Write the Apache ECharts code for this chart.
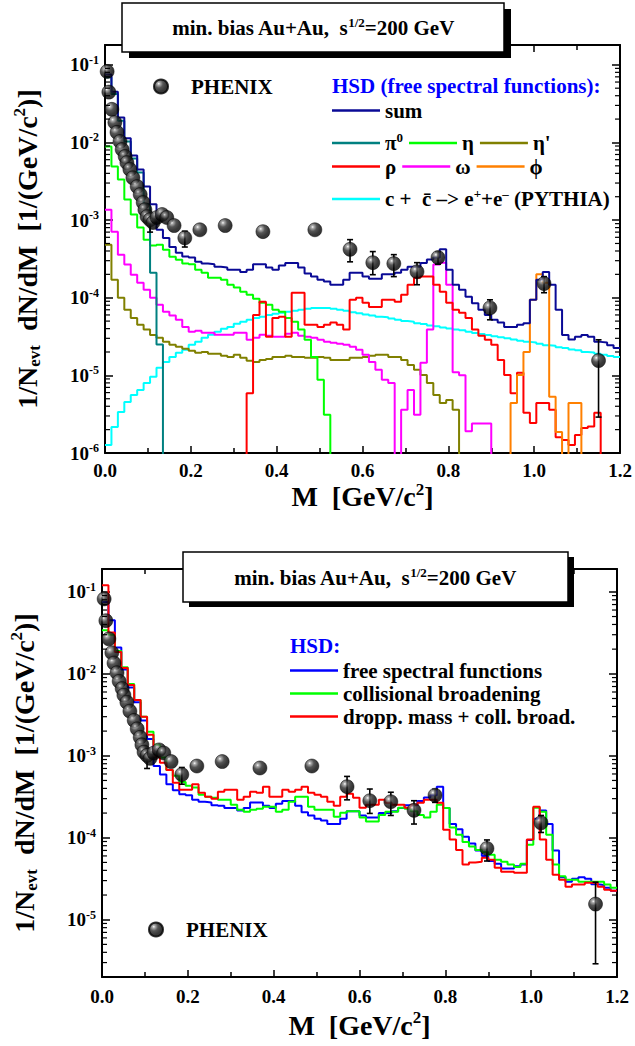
<!DOCTYPE html>
<html><head><meta charset="utf-8">
<script src="https://cdn.jsdelivr.net/npm/echarts@6/dist/echarts.min.js"></script>
<style>html,body{margin:0;padding:0;background:#fff}#c{width:635px;height:1046px}</style>
</head><body><div id="c"></div>
<script>
// ---------------- DATA ----------------
const binWidth = 0.015;          // GeV/c^2, histogram bin width
const nBins = 80;                // 0 .. 1.2 GeV/c^2
const xTicks = [0.0, 0.2, 0.4, 0.6, 0.8, 1.0, 1.2];

// HSD, free spectral functions: sum (top panel) = "free spectral functions" (bottom panel)
const sumFree = [0.075, 0.045, 0.021, 0.0113, 0.0068, 0.0045, 0.0027, 0.0016, 7.5e-4, 5.9e-4,
  4.5e-4, 3.8e-4, 3.4e-4, 3.3e-4, 2.9e-4, 2.75e-4, 2.7e-4, 2.5e-4, 2.45e-4, 2.3e-4,
  2.3e-4, 2.15e-4, 2.3e-4, 2.7e-4, 2.7e-4, 2.45e-4, 2.3e-4, 2.6e-4, 2.8e-4, 2.8e-4,
  2.45e-4, 2.05e-4, 1.87e-4, 1.7e-4, 1.62e-4, 1.47e-4, 1.47e-4, 1.7e-4, 2.1e-4, 2.1e-4,
  1.87e-4, 1.76e-4, 1.76e-4, 2.0e-4, 2.0e-4, 2.1e-4, 2.3e-4, 2.5e-4, 2.5e-4, 2.8e-4,
  3.1e-4, 3.3e-4, 4.2e-4, 2.3e-4, 1.47e-4, 1.27e-4, 1.03e-4, 8.5e-5, 7.0e-5, 6.0e-5,
  5.2e-5, 4.8e-5, 4.2e-5, 4.2e-5, 4.5e-5, 4.7e-5, 9.4e-5, 1.7e-4, 2.15e-4, 1.47e-4,
  7.0e-5, 3.3e-5, 2.9e-5, 3.15e-5, 3.3e-5, 3.15e-5, 2.7e-5, 2.65e-5, 2.45e-5, 2.25e-5];
const pi0Start = 0;
const pi0 = [0.069, 0.042, 0.019, 0.0103, 0.0062, 0.0041, 0.0016, 2.1e-4, 2.5e-5];
const etaStart = 0;
const eta = [0.00887, 0.0049, 0.00334, 0.00184, 0.00118, 8.0e-4, 5.6e-4, 4.7e-4, 4.8e-4, 4.16e-4,
  3.38e-4, 3.09e-4, 2.75e-4, 2.69e-4, 2.3e-4, 2.1e-4, 1.81e-4, 1.81e-4, 1.71e-4, 1.47e-4,
  1.35e-4, 1.19e-4, 1.09e-4, 9.7e-5, 8.6e-5, 8.1e-5, 7.0e-5, 6.6e-5, 5.5e-5, 4.9e-5,
  3.9e-5, 2.87e-5, 1.73e-5, 8.8e-6, 3.1e-6];
const etaPrimeStart = 0;
const etaPrime = [4.8e-4, 1.71e-4, 1.0e-4, 7.0e-5, 5.5e-5, 4.5e-5, 3.9e-5, 3.3e-5, 3.05e-5, 2.72e-5,
  2.48e-5, 2.34e-5, 2.2e-5, 2.07e-5, 1.95e-5, 2.0e-5, 1.9e-5, 1.9e-5, 1.79e-5, 1.73e-5,
  1.84e-5, 1.68e-5, 1.54e-5, 1.49e-5, 1.58e-5, 1.63e-5, 1.73e-5, 1.73e-5, 1.79e-5, 1.73e-5,
  1.73e-5, 1.68e-5, 1.68e-5, 1.73e-5, 1.68e-5, 1.58e-5, 1.58e-5, 1.58e-5, 1.68e-5, 1.68e-5,
  1.73e-5, 1.79e-5, 1.84e-5, 1.84e-5, 1.73e-5, 1.73e-5, 1.58e-5, 1.36e-5, 1.18e-5, 1.01e-5,
  8.0e-6, 5.6e-6, 4.4e-6, 4.8e-6, 3.6e-6];
const rhoStart = 22;
const rho = [5.9e-6, 6.0e-5, 8.9e-5, 3.15e-5, 5.5e-5, 5.7e-5, 3.15e-5, 1.16e-4, 1.16e-4, 4.5e-5,
  4.5e-5, 4.2e-5, 4.5e-5, 4.8e-5, 4.5e-5, 3.9e-5, 9.4e-5, 1.0e-4, 8.6e-5, 7.6e-5,
  7.6e-5, 9.4e-5, 9.4e-5, 8.9e-5, 1.09e-4, 1.47e-4, 1.81e-4, 1.87e-4, 1.87e-4, 1.47e-4,
  1.19e-4, 8.6e-5, 7.0e-5, 6.4e-5, 5.5e-5, 3.9e-5, 3.24e-5, 2.87e-5, 2.48e-5, 1.58e-5,
  1.01e-5, 5.9e-6, 1.08e-5, 3.3e-6, 2.44e-6, 4.4e-6, 4.4e-6, 3.6e-6, 1.6e-6, 1.47e-6,
  1.27e-6, 1.7e-6, 2.1e-6, 2.2e-6, 3.3e-6];
const omegaStart = 0;
const omega = [1.36e-3, 7.1e-4, 3.59e-4, 2.67e-4, 1.98e-4, 1.56e-4, 1.27e-4, 1.0e-4, 8.1e-5, 6.6e-5,
  5.9e-5, 5.2e-5, 4.2e-5, 3.64e-5, 3.75e-5, 3.53e-5, 3.53e-5, 3.33e-5, 3.33e-5, 3.33e-5,
  3.53e-5, 3.53e-5, 2.87e-5, 3.05e-5, 3.33e-5, 3.24e-5, 3.15e-5, 3.15e-5, 3.43e-5, 3.53e-5,
  3.24e-5, 3.15e-5, 3.05e-5, 2.87e-5, 2.72e-5, 2.64e-5, 2.55e-5, 2.48e-5, 2.34e-5, 2.13e-5,
  1.84e-5, 1.49e-5, 1.18e-5, 8.8e-6, 8.0e-6, 0, 3.6e-6, 6.5e-6, 3.1e-6, 1.45e-5,
  3.9e-5, 2.67e-4, 2.83e-4, 1.47e-4, 1.1e-5, 1.0e-5, 1.9e-6, 2.4e-6, 2.4e-6, 2.4e-6];
const phiStart = 63;
const phi = [4.4e-6, 1.01e-5, 2.0e-5, 9.4e-5, 2.0e-4, 1.56e-4, 5.3e-6, 1.87e-6, 0, 4.4e-6, 4.4e-6];
const charmStart = 0;
const charm = [1.27e-6, 2.16e-6, 3.38e-6, 4.55e-6, 5.6e-6, 6.5e-6, 8.0e-6, 9.6e-6, 1.25e-5, 1.49e-5,
  1.73e-5, 1.95e-5, 2.13e-5, 2.48e-5, 2.72e-5, 3.05e-5, 3.33e-5, 3.64e-5, 3.98e-5, 4.2e-5,
  4.62e-5, 4.9e-5, 5.2e-5, 5.5e-5, 5.7e-5, 6.0e-5, 6.2e-5, 6.4e-5, 6.6e-5, 6.8e-5,
  7.0e-5, 7.2e-5, 7.4e-5, 7.4e-5, 7.4e-5, 7.2e-5, 7.0e-5, 6.8e-5, 6.5e-5, 6.3e-5,
  6.1e-5, 5.9e-5, 5.7e-5, 5.6e-5, 5.4e-5, 5.2e-5, 5.0e-5, 4.9e-5, 4.7e-5, 4.6e-5,
  4.4e-5, 4.3e-5, 4.15e-5, 4.0e-5, 3.9e-5, 3.8e-5, 3.65e-5, 3.5e-5, 3.4e-5, 3.3e-5,
  3.2e-5, 3.1e-5, 3.0e-5, 2.9e-5, 2.8e-5, 2.7e-5, 2.65e-5, 2.55e-5, 2.45e-5, 2.4e-5,
  2.3e-5, 2.25e-5, 2.15e-5, 2.1e-5, 2.0e-5, 1.97e-5, 1.9e-5, 1.84e-5, 1.78e-5, 1.73e-5];

// bottom panel: collisional broadening, dropping mass + coll. broadening
const collBroad = [0.034, 0.03, 0.019, 0.012, 0.0075, 0.0048, 0.003, 0.00196, 0.00136, 9.5e-4,
  6.7e-4, 5.7e-4, 4.8e-4, 4.3e-4, 4.1e-4, 3.34e-4, 3.16e-4, 3.08e-4, 2.9e-4, 2.9e-4,
  2.52e-4, 2.19e-4, 2.08e-4, 2.19e-4, 2.26e-4, 2.39e-4, 2.39e-4, 2.08e-4, 2.19e-4, 2.75e-4,
  3.16e-4, 3.16e-4, 2.39e-4, 2.19e-4, 2.19e-4, 2.19e-4, 1.8e-4, 2.02e-4, 2.1e-4, 2.1e-4,
  1.76e-4, 1.58e-4, 1.58e-4, 1.9e-4, 2.08e-4, 2.08e-4, 2.33e-4, 2.26e-4, 2.1e-4, 1.9e-4,
  1.76e-4, 2.08e-4, 2.52e-4, 2.3e-4, 1.33e-4, 1.09e-4, 8.9e-5, 7.8e-5, 7.1e-5, 6.7e-5,
  6.2e-5, 5.4e-5, 5.1e-5, 4.7e-5, 4.4e-5, 4.8e-5, 8.2e-5, 2.33e-4, 2.08e-4, 1.09e-4,
  4.7e-5, 3.4e-5, 3.08e-5, 3.08e-5, 2.9e-5, 2.9e-5, 2.9e-5, 2.9e-5, 2.68e-5, 2.45e-5];
const droppMass = [0.12, 0.032, 0.0185, 0.0118, 0.0073, 0.0048, 0.003, 0.0018, 9.7e-4, 8.2e-4,
  6.7e-4, 4.7e-4, 3.85e-4, 3.85e-4, 4.5e-4, 3.54e-4, 3.16e-4, 3.0e-4, 3.64e-4, 3.85e-4,
  3.85e-4, 2.9e-4, 3.16e-4, 3.64e-4, 3.54e-4, 4.2e-4, 3.16e-4, 3.16e-4, 3.85e-4, 3.64e-4,
  3.85e-4, 4.2e-4, 3.54e-4, 3.34e-4, 3.16e-4, 2.75e-4, 2.45e-4, 3.16e-4, 3.45e-4, 3.08e-4,
  2.33e-4, 2.52e-4, 2.52e-4, 2.9e-4, 2.68e-4, 2.52e-4, 2.52e-4, 2.33e-4, 2.52e-4, 2.68e-4,
  2.9e-4, 2.9e-4, 2.68e-4, 1.25e-4, 9.5e-5, 7.1e-5, 4.7e-5, 5.0e-5, 5.1e-5, 5.7e-5,
  5.4e-5, 4.3e-5, 3.85e-5, 3.85e-5, 3.75e-5, 3.75e-5, 9.5e-5, 2.39e-4, 9.5e-5, 5.4e-5,
  3.54e-5, 3.08e-5, 2.52e-5, 2.68e-5, 2.68e-5, 2.83e-5, 2.83e-5, 2.52e-5, 2.32e-5, 2.25e-5];

// PHENIX data
const phenixM = [0.005, 0.009, 0.016, 0.023, 0.028, 0.035, 0.040, 0.047, 0.051, 0.058,
  0.065, 0.075, 0.082, 0.089, 0.093, 0.098, 0.105, 0.112, 0.121, 0.133,
  0.144, 0.161, 0.186, 0.221, 0.280, 0.368, 0.489, 0.571, 0.624, 0.673,
  0.727, 0.776, 0.897, 1.023, 1.150];
const phenixY = [0.082, 0.0445, 0.0267, 0.0181, 0.0135, 0.0103, 0.0081, 0.0066, 0.0055, 0.0045,
  0.0035, 0.0027, 0.00213, 0.00168, 0.00136, 0.00111, 0.00101, 9.3e-4, 1.08e-3, 1.18e-3,
  1.08e-3, 8.5e-4, 5.9e-4, 7.5e-4, 8.5e-4, 7.1e-4, 7.5e-4, 4.2e-4, 2.83e-4, 2.75e-4,
  2.16e-4, 3.3e-4, 7.4e-5, 1.52e-4, 1.55e-5];
const phenixLo = [null, null, null, null, null, null, null, null, null, null,
  null, null, null, null, null, null, 7.0e-4, null, null, null,
  null, null, 4.5e-4, null, null, null, null, 2.9e-4, 1.98e-4, 1.87e-4,
  1.47e-4, 2.7e-4, 5.2e-5, 1.16e-4, 2.9e-6];
const phenixHi = [null, null, null, null, null, null, null, null, null, null,
  null, null, null, null, null, null, 1.05e-3, null, null, null,
  null, null, 7.2e-4, null, null, null, null, 5.6e-4, 3.93e-4, 3.59e-4,
  2.83e-4, 3.9e-4, 9.4e-5, 1.87e-4, 2.87e-5];

// ---------------- CHART ----------------
const FONT = '"Liberation Serif", "Times New Roman", serif';
const FLOOR = 1e-9; // empty bins: drawn below the visible axis range (clipped)
const X_MIN = 0, X_MAX = 1.2;
const Y_RANGE = [[1e-6, 0.18], [2e-6, 0.19]];

function histo(vals, start) {
  const full = [];
  for (let i = 0; i < nBins; i++) {
    const j = i - (start || 0);
    const v = (j >= 0 && j < vals.length) ? vals[j] : 0;
    full.push(v);
  }
  const pts = full.map((v, i) => [Math.round(i * binWidth * 1000) / 1000, v > 0 ? v : FLOOR]);
  const last = full[nBins - 1];
  pts.push([Math.round(nBins * binWidth * 1000) / 1000, last > 0 ? last : FLOOR]);
  return pts;
}
function hSeries(name, vals, start, color, g, z) {
  return {
    type: 'line', name, data: histo(vals, start), step: 'end', symbol: 'none', showSymbol: false,
    xAxisIndex: g * 2, yAxisIndex: g * 2, clip: true, z: z || 2, silent: true,
    lineStyle: { color, width: 2 }, itemStyle: { color }, emphasis: { disabled: true }
  };
}
const sphere = {
  type: 'radial', x: 0.34, y: 0.3, r: 0.8,
  colorStops: [{ offset: 0, color: '#ffffff' }, { offset: 0.12, color: '#9a9a9a' }, { offset: 0.38, color: '#2a2a2a' }, { offset: 0.7, color: '#050505' }, { offset: 1, color: '#000' }]
};
function phenixSeries(g) {
  return {
    type: 'scatter', name: 'PHENIX', xAxisIndex: g * 2, yAxisIndex: g * 2, z: 6, silent: true,
    symbol: 'circle', symbolSize: 14,
    itemStyle: { color: sphere, borderColor: '#000', borderWidth: 0.6 },
    data: phenixM.map((m, i) => [m, phenixY[i]])
  };
}
function errSeries(g) {
  const d = [];
  phenixM.forEach((m, i) => { if (phenixLo[i] != null) d.push([m, phenixLo[i], phenixHi[i]]); });
  return {
    type: 'custom', xAxisIndex: g * 2, yAxisIndex: g * 2, z: 5, silent: true, clip: true,
    encode: { x: 0, y: [1, 2] }, data: d,
    renderItem(params, api) {
      const x = api.value(0);
      const p1 = api.coord([x, api.value(1)]), p2 = api.coord([x, api.value(2)]);
      const st = { stroke: '#000', lineWidth: 1.6 };
      return { type: 'group', children: [
        { type: 'line', shape: { x1: p1[0], y1: p1[1], x2: p2[0], y2: p2[1] }, style: st },
        { type: 'line', shape: { x1: p1[0] - 3, y1: p1[1], x2: p1[0] + 3, y2: p1[1] }, style: st },
        { type: 'line', shape: { x1: p2[0] - 3, y1: p2[1], x2: p2[0] + 3, y2: p2[1] }, style: st }
      ] };
    }
  };
}
function minorTickSeries(g) {
  const d = [];
  const [lo, hi] = Y_RANGE[g];
  for (let e = -7; e <= 0; e++) for (let k = 2; k <= 9; k++) {
    const v = k * Math.pow(10, e);
    if (v > lo * 1.0001 && v < hi) d.push([X_MIN, v]);
  }
  return {
    type: 'custom', xAxisIndex: g * 2, yAxisIndex: g * 2, z: 7, silent: true, data: d,
    encode: { x: 0, y: 1 },
    renderItem(params, api) {
      const v = api.value(1);
      const pl = api.coord([X_MIN, v]), pr = api.coord([X_MAX, v]);
      const st = { stroke: '#000', lineWidth: 1.2 };
      return { type: 'group', children: [
        { type: 'line', shape: { x1: pl[0], y1: pl[1], x2: pl[0] + 5, y2: pl[1] }, style: st },
        { type: 'line', shape: { x1: pr[0], y1: pr[1], x2: pr[0] - 5, y2: pr[1] }, style: st }
      ] };
    }
  };
}

const bold = (size, extra) => Object.assign({ fontFamily: FONT, fontWeight: 'bold', fontSize: size, color: '#000' }, extra || {});
const tickRich = {
  b: bold(19, { lineHeight: 22 }),
  e: bold(12, { lineHeight: 12, verticalAlign: 'top' })
};
function logLabel(v) {
  const l = Math.log10(v);
  const e = Math.round(l);
  if (Math.abs(l - e) > 1e-6) return '';
  return '{b|10}{e|' + e + '}';
}
const titleRich = {
  t: bold(28, { lineHeight: 32 }),
  s: bold(17, { lineHeight: 17, verticalAlign: 'top' }),
  u: bold(17, { lineHeight: 17, verticalAlign: 'bottom' })
};
function axesFor(g) {
  const common = { min: X_MIN, max: X_MAX, interval: 0.2, gridIndex: g, type: 'value',
    splitLine: { show: false },
    axisLine: { show: true, onZero: false, lineStyle: { color: '#000', width: 2 } },
    axisTick: { show: true, inside: true, length: 7, lineStyle: { color: '#000', width: 1.5 } },
    minorTick: { show: true, splitNumber: 2, length: 5, lineStyle: { color: '#000', width: 1.5 } } };
  const xb = Object.assign({}, common, { position: 'bottom',
    axisLabel: { margin: g === 0 ? 8 : 10, formatter: v => v.toFixed(1), ...bold(19) },
    name: '{t|M  [GeV/c}{s|2}{t|]}', nameLocation: 'middle', nameGap: g === 0 ? 27 : 32,
    nameTextStyle: { rich: titleRich } });
  const xt = Object.assign({}, common, { position: 'top', axisLabel: { show: false } });
  const ycommon = { type: 'log', logBase: 10, min: Y_RANGE[g][0], max: Y_RANGE[g][1], gridIndex: g,
    splitLine: { show: false },
    axisLine: { show: true, onZero: false, lineStyle: { color: '#000', width: 2 } },
    axisTick: { show: true, inside: true, length: 8, lineStyle: { color: '#000', width: 1.5 } },
    minorTick: { show: false } };
  const yl = Object.assign({}, ycommon, { position: 'left',
    axisLabel: { margin: 6, formatter: logLabel, rich: tickRich },
    name: '{t|1/N}{u|evt}{t|  dN/dM  [1/(GeV/c}{s|2}{t|)]}', nameLocation: 'middle', nameRotate: 90,
    nameGap: 62, nameTextStyle: { rich: titleRich } });
  const yr = Object.assign({}, ycommon, { position: 'right', axisLabel: { show: false } });
  return { x: [xb, xt], y: [yl, yr] };
}
const a0 = axesFor(0), a1 = axesFor(1);

const legRich = {
  t: bold(21, { lineHeight: 24 }),
  s: bold(13, { lineHeight: 13, verticalAlign: 'top' }),
  p: bold(21, { lineHeight: 24, padding: [0, 0, 0, 18] })
};
const legendText = {
  'π0': '{t|π}{s|0}',
  'c + c̄ -> e+e- (PYTHIA)': '{t|c +  c\u0304 \u2013> e}{s|+}{t|+e}{s|\u2013}{t| (PYTHIA)}',
  'PHENIX': '{p|PHENIX}'
};
function legend(data, left, top, opts) {
  return Object.assign({
    data, left, top, padding: 0, itemGap: 6, itemWidth: 48, itemHeight: 2.5, icon: 'rect',
    selectedMode: false, orient: 'horizontal',
    formatter: n => legendText[n] || ('{t|' + n + '}'),
    textStyle: { rich: legRich, ...bold(21) }
  }, opts || {});
}

const graphicBox = (x, y, w, h, dx, dy, cx, cy) => ({
  type: 'group', z: 100, children: [
    { type: 'rect', shape: { x: x + dx, y: y + dy, width: w, height: h }, style: { fill: '#000' }, z: 100 },
    { type: 'rect', shape: { x, y, width: w, height: h }, style: { fill: '#fff', stroke: '#000', lineWidth: 1.5 }, z: 101 },
    { type: 'text', x: cx, y: cy, z: 102, style: {
      text: '{t|min. bias Au+Au,  s}{s|1/2}{t|=200 GeV}', align: 'center', verticalAlign: 'middle',
      rich: { t: bold(21, { lineHeight: 24 }), s: bold(13, { lineHeight: 13, verticalAlign: 'top' }) } } }
  ]
});

const chart = echarts.init(document.getElementById('c'), null, { renderer: 'svg' });
chart.setOption({
  animation: false,
  backgroundColor: '#fff',
  textStyle: { fontFamily: FONT },
  grid: [
    { left: 105, top: 45, width: 515, height: 408 },
    { left: 101, top: 569, width: 516, height: 408 }
  ],
  xAxis: [a0.x[0], a0.x[1], a1.x[0], a1.x[1]],
  yAxis: [a0.y[0], a0.y[1], a1.y[0], a1.y[1]],
  legend: [
    legend(['PHENIX'], 153, 76, { itemWidth: 14, itemHeight: 14, icon: 'circle' }),
    legend(['sum'], 332, 100),
    legend(['π0', 'η', "η'"], 332, 131),
    legend(['ρ', 'ω', '\u03D5'], 332, 156),
    legend(['c + c̄ -> e+e- (PYTHIA)'], 332, 187),
    legend(['PHENIX'], 148, 919, { itemWidth: 14, itemHeight: 14, icon: 'circle' }),
    legend(['free spectral functions', 'collisional broadening', 'dropp. mass + coll. broad.'], 290, 660, { orient: 'vertical', itemGap: 2 })
  ],
  graphic: [
    graphicBox(122, 3, 382, 49, 7, 6, 313, 28),
    graphicBox(183, 552, 385, 50, 6, 5, 375, 578),
    { type: 'text', x: 332, y: 86, z: 50, style: { text: 'HSD (free spectral functions):', ...bold(21), fill: '#0000ff', verticalAlign: 'middle' } },
    { type: 'text', x: 290, y: 646, z: 50, style: { text: 'HSD:', ...bold(21), fill: '#0000ff', verticalAlign: 'middle' } }
  ],
  series: [
    hSeries('c + c̄ -> e+e- (PYTHIA)', charm, charmStart, '#00ffff', 0, 2),
    hSeries("η'", etaPrime, etaPrimeStart, '#808000', 0, 2),
    hSeries('ω', omega, omegaStart, '#ff00ff', 0, 2),
    hSeries('η', eta, etaStart, '#00ff00', 0, 2),
    hSeries('ρ', rho, rhoStart, '#ff0000', 0, 2),
    hSeries('\u03D5', phi, phiStart, '#ff8000', 0, 2),
    hSeries('π0', pi0, pi0Start, '#008080', 0, 3),
    hSeries('sum', sumFree, 0, '#0a0a96', 0, 3),
    errSeries(0), phenixSeries(0), minorTickSeries(0),
    hSeries('free spectral functions', sumFree, 0, '#0000ff', 1, 2),
    hSeries('collisional broadening', collBroad, 0, '#00ff00', 1, 3),
    hSeries('dropp. mass + coll. broad.', droppMass, 0, '#ff0000', 1, 4),
    errSeries(1), phenixSeries(1), minorTickSeries(1)
  ]
});
</script></body></html>
